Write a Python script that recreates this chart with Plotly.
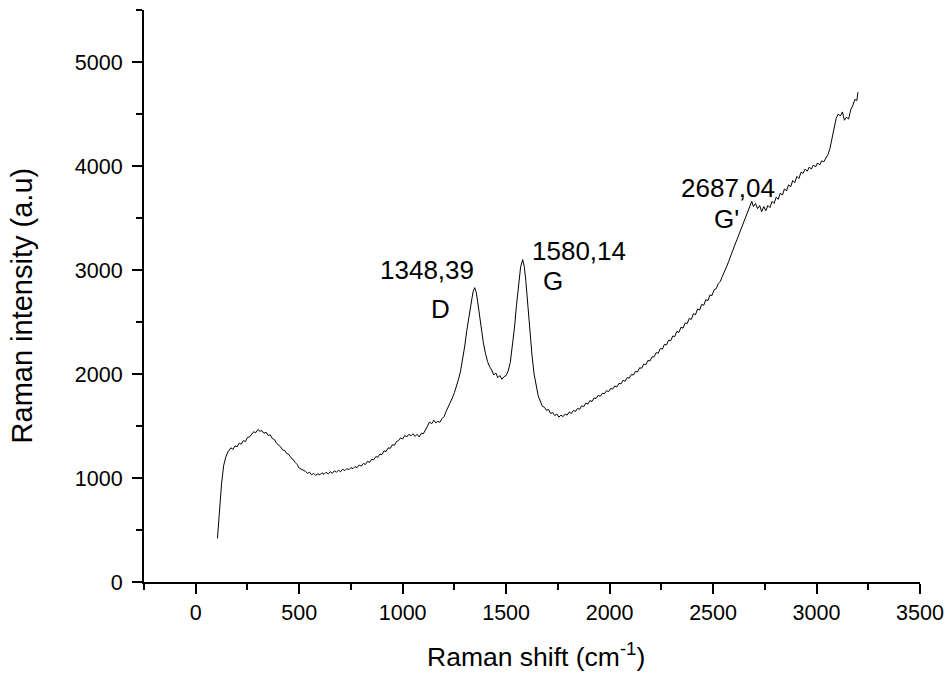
import plotly.graph_objects as go

# Raman spectrum (x: Raman shift in cm^-1, y: intensity a.u.)
shift = [105, 115, 125, 135, 145, 155, 165, 170, 180, 190,
         200, 210, 220, 230, 240, 250, 260, 270, 280, 290,
         300, 310, 320, 330, 340, 350, 360, 370, 380, 390,
         400, 410, 420, 430, 440, 450, 460, 470, 480, 490,
         500, 510, 520, 530, 540, 550, 560, 570, 580, 590,
         600, 610, 620, 630, 640, 650, 660, 670, 680, 690,
         700, 710, 720, 730, 740, 750, 760, 770, 780, 790,
         800, 810, 820, 830, 840, 850, 860, 870, 880, 890,
         900, 910, 920, 930, 940, 950, 960, 970, 980, 990,
         1000, 1010, 1020, 1030, 1040, 1050, 1060, 1070, 1080, 1090,
         1100, 1110, 1120, 1130, 1140, 1150, 1160, 1170, 1180, 1190,
         1200, 1210, 1220, 1230, 1240, 1250, 1260, 1270, 1280, 1290,
         1300, 1310, 1320, 1330, 1340, 1348, 1355, 1362, 1370, 1380,
         1390, 1400, 1410, 1420, 1430, 1440, 1450, 1460, 1470, 1480,
         1490, 1500, 1510, 1520, 1530, 1540, 1550, 1560, 1570, 1580,
         1588, 1595, 1605, 1615, 1625, 1635, 1645, 1655, 1665, 1675,
         1685, 1695, 1705, 1715, 1725, 1735, 1745, 1755, 1765, 1775,
         1785, 1795, 1805, 1815, 1825, 1835, 1845, 1855, 1865, 1875,
         1885, 1895, 1905, 1915, 1925, 1935, 1945, 1955, 1965, 1975,
         1985, 1995, 2005, 2015, 2025, 2035, 2045, 2055, 2065, 2075,
         2085, 2095, 2105, 2115, 2125, 2135, 2145, 2155, 2165, 2175,
         2185, 2195, 2205, 2215, 2225, 2235, 2245, 2255, 2265, 2275,
         2285, 2295, 2305, 2315, 2325, 2335, 2345, 2355, 2365, 2375,
         2385, 2395, 2405, 2415, 2425, 2435, 2445, 2455, 2465, 2475,
         2485, 2495, 2505, 2515, 2525, 2535, 2545, 2555, 2565, 2575,
         2585, 2595, 2605, 2615, 2625, 2635, 2645, 2655, 2665, 2675,
         2687, 2695, 2705, 2715, 2725, 2735, 2745, 2755, 2765, 2775,
         2785, 2795, 2805, 2815, 2825, 2835, 2845, 2855, 2865, 2875,
         2885, 2895, 2905, 2915, 2925, 2935, 2945, 2955, 2965, 2975,
         2985, 2995, 3005, 3015, 3025, 3035, 3045, 3055, 3065, 3075,
         3085, 3095, 3105, 3115, 3125, 3135, 3145, 3155, 3165, 3175,
         3185, 3195, 3200]
intensity = [420, 700, 950, 1120, 1200, 1250, 1275, 1290, 1275, 1310,
             1300, 1335, 1325, 1360, 1350, 1390, 1395, 1420, 1445, 1435,
             1465, 1450, 1455, 1430, 1440, 1410, 1415, 1380, 1370, 1335,
             1320, 1300, 1270, 1265, 1235, 1225, 1195, 1180, 1150, 1130,
             1095, 1085, 1070, 1065, 1045, 1055, 1030, 1045, 1025, 1040,
             1030, 1050, 1035, 1055, 1040, 1060, 1045, 1070, 1055, 1075,
             1060, 1085, 1070, 1090, 1080, 1100, 1090, 1110, 1100, 1125,
             1115, 1140, 1130, 1160, 1150, 1180, 1175, 1205, 1200, 1230,
             1225, 1260, 1255, 1290, 1285, 1320, 1315, 1350, 1360, 1385,
             1375, 1410, 1395, 1420, 1405, 1425, 1400, 1420, 1395, 1430,
             1425, 1470, 1500, 1540, 1520, 1555, 1530, 1545, 1535, 1570,
             1590, 1640, 1680, 1720, 1770, 1820, 1880, 1950, 2030, 2140,
             2270, 2420, 2560, 2690, 2790, 2830, 2790, 2700, 2570, 2430,
             2300, 2200, 2120, 2070, 2040, 1990, 2010, 1965, 1985, 1950,
             1975, 1985, 2030, 2110, 2250, 2440, 2660, 2870, 3030, 3100,
             3030, 2900, 2650, 2400, 2180, 2000, 1880, 1790, 1740, 1690,
             1680, 1650, 1660, 1620, 1630, 1600, 1615, 1585, 1605, 1590,
             1615, 1605, 1635, 1620, 1650, 1640, 1670, 1660, 1695, 1685,
             1720, 1710, 1745, 1735, 1770, 1765, 1795, 1785, 1815, 1810,
             1840, 1830, 1860, 1855, 1885, 1875, 1910, 1905, 1940, 1930,
             1965, 1960, 1995, 1990, 2025, 2020, 2060, 2055, 2095, 2090,
             2130, 2125, 2165, 2165, 2205, 2200, 2245, 2240, 2285, 2280,
             2325, 2320, 2365, 2360, 2410, 2400, 2450, 2440, 2490, 2485,
             2535, 2525, 2580, 2570, 2625, 2615, 2670, 2660, 2715, 2705,
             2760, 2755, 2810, 2820, 2870, 2890, 2940, 2980, 3030, 3080,
             3140, 3190, 3240, 3290, 3340, 3390, 3440, 3500, 3550, 3600,
             3660, 3610, 3640, 3590, 3620, 3560, 3610, 3570, 3620, 3600,
             3660, 3640, 3700, 3680, 3740, 3720, 3780, 3760, 3820, 3800,
             3860, 3840, 3900, 3880, 3940, 3930, 3970, 3950, 3990, 3970,
             4010, 3990, 4030, 4010, 4050, 4040, 4080, 4110, 4170, 4260,
             4380, 4460, 4500, 4480, 4520, 4440, 4470, 4450, 4540, 4580,
             4640, 4630, 4710]

peak_labels = ["1348,39", "D", "1580,14", "G", "2687,04", "G'"]
peak_label_x = [1116, 1184, 1853, 1725, 2572, 2566]
peak_label_y = [3000, 2625, 3180, 2890, 3788, 3490]

x_title = "Raman shift (cm<sup>-1</sup>)"
y_title = "Raman intensity (a.u)"

FONT = "Liberation Sans, Arial, sans-serif"

fig = go.Figure()
fig.add_trace(go.Scatter(x=shift, y=intensity, mode="lines",
                         line=dict(color="black", width=1), showlegend=False))

for t, xx, yy in zip(peak_labels, peak_label_x, peak_label_y):
    fig.add_annotation(x=xx, y=yy, xref="x", yref="y", text=t, showarrow=False,
                       font=dict(family=FONT, size=26, color="black"))

# axis titles as free text so their places match the reference exactly
fig.add_annotation(x=0.505, y=-0.128, xref="paper", yref="paper", text=x_title,
                   showarrow=False, xanchor="center", yanchor="middle",
                   font=dict(family=FONT, size=26.5, color="black"))
fig.add_annotation(x=-0.156, y=0.4834, xref="paper", yref="paper", text=y_title,
                   showarrow=False, xanchor="center", yanchor="middle", textangle=-90,
                   font=dict(family=FONT, size=29, color="black"))

axis_common = dict(showline=True, linecolor="black", linewidth=2, ticks="outside",
                   ticklen=10, tickwidth=2, tickcolor="black", showgrid=False,
                   zeroline=False, mirror=False, automargin=False,
                   tickfont=dict(family=FONT, size=21.5, color="black"))

fig.update_xaxes(range=[-250, 3500], dtick=500, tick0=0,
                 minor=dict(ticks="outside", ticklen=6, tickwidth=2, tickcolor="black", dtick=250, tick0=0),
                 **axis_common)
fig.update_yaxes(range=[0, 5500], dtick=1000, tick0=0, ticklabelstandoff=5,
                 minor=dict(ticks="outside", ticklen=6, tickwidth=2, tickcolor="black", dtick=500, tick0=0),
                 **axis_common)

fig.update_layout(width=948, height=675, margin=dict(l=144, r=28, t=10, b=93),
                  plot_bgcolor="white", paper_bgcolor="white")

fig.write_html("out.html")
